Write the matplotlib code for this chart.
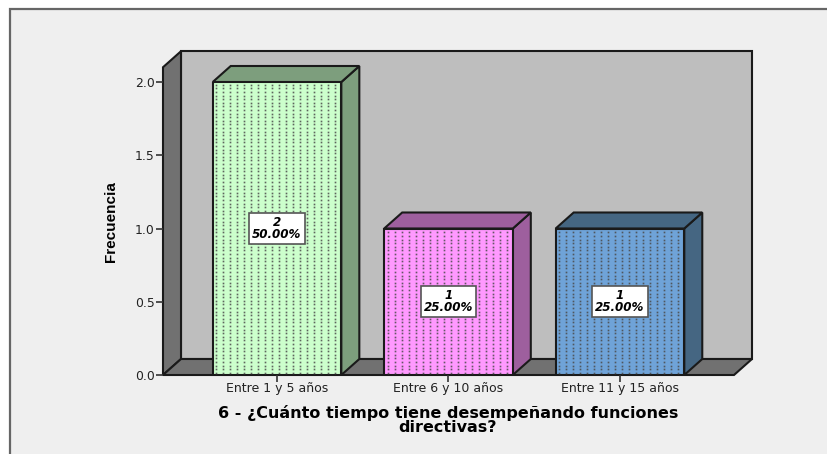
import numpy as np
import matplotlib
matplotlib.use("Agg")
import matplotlib.pyplot as plt
from matplotlib.patches import Polygon, Rectangle

categories = ["Entre 1 y 5 años", "Entre 6 y 10 años", "Entre 11 y 15 años"]
counts = [2, 1, 1]
percents = ["50.00%", "25.00%", "25.00%"]
front_colors = ["#CCFFCC", "#FF99FF", "#6FA3D8"]
side_colors = ["#7D9E7D", "#9E5F9E", "#456682"]
yticks = [0.0, 0.5, 1.0, 1.5, 2.0]
title = "6 - ¿Cuánto tiempo tiene desempeñando funciones\ndirectivas?"

W, H = 828, 454
BG = "#EFEFEF"
EDGE = "#1A1A1A"

def box(l, t, r, b):
    # pixel box (from top left) to figure fraction rect
    return [l / W, 1 - b / H, (r - l) / W, (b - t) / H]

fig = plt.figure(figsize=(W / 100, H / 100), dpi=100, facecolor="white")

# outer panel, runs off the right and bottom of the picture
bg = fig.add_axes([0, 0, 1, 1], zorder=0)
bg.set_xlim(0, W)
bg.set_ylim(H, 0)
bg.axis("off")
bg.add_patch(Rectangle((10, 9), W, H, fc=BG, ec="#666666", lw=1.6))

ax = fig.add_axes(box(163, 82, 734, 375), zorder=1)
ax.patch.set_alpha(0)
ax.set_xlim(-0.665, 2.665)
ax.set_ylim(0, 2)
for s in ax.spines.values():
    s.set_visible(False)

# depth of the 3d effect in data units
dx = 18 / 171.5
dy = 16 / 146.5
bar_w = 0.375
x0, x1 = ax.get_xlim()
top = 2 + 0.21

def poly(pts, fc, z=2, lw=1.5):
    ax.add_patch(Polygon(pts, closed=True, fc=fc, ec=EDGE, lw=lw, zorder=z,
                         clip_on=False, joinstyle="miter"))

# back wall, left wall, floor
poly([(x0 + dx, dy), (x1 + dx, dy), (x1 + dx, top), (x0 + dx, top)], "#BEBEBE", 1)
poly([(x0, 0), (x0 + dx, dy), (x0 + dx, top), (x0, top - dy)], "#717171", 1.2)
poly([(x0, 0), (x1, 0), (x1 + dx, dy), (x0 + dx, dy)], "#717171", 1.2)

for i, (v, pct) in enumerate(zip(counts, percents)):
    l, r = i - bar_w, i + bar_w
    # right side and top faces
    poly([(r, 0), (r + dx, dy), (r + dx, v + dy), (r, v)], side_colors[i], 3)
    poly([(l, v), (r, v), (r + dx, v + dy), (l + dx, v + dy)], side_colors[i], 3)
    ax.bar(i, v, width=2 * bar_w, color=front_colors[i], edgecolor=EDGE,
           linewidth=1.5, zorder=4)
    # stipple texture on the front face
    xs = np.arange(l + 0.02, r - 0.01, 7 / 171.5)
    ys = np.arange(0.015, v - 0.01, 3.6 / 146.5)
    gx, gy = np.meshgrid(xs, ys)
    ax.plot(gx.ravel(), gy.ravel(), ls="none", marker="s", ms=1.2, mew=0,
            color="#4A4A4A", alpha=0.85, zorder=5)
    ax.text(i, v / 2, f"{v}\n{pct}", ha="center", va="center", fontsize=8.6,
            fontweight="bold", style="italic", family="DejaVu Sans",
            linespacing=0.9, color="black", zorder=6,
            bbox=dict(boxstyle="square,pad=0.24", fc="white", ec="#555555", lw=1.2))

ax.set_xticks(range(len(categories)))
ax.set_xticklabels(categories, fontsize=9, family="DejaVu Sans", color="#222222")
ax.set_yticks(yticks)
ax.set_yticklabels([f"{t:.1f}" for t in yticks], fontsize=8.9,
                   family="DejaVu Sans", color="#222222")
ax.tick_params(axis="x", length=5, width=1.2, color="#333333", pad=0)
ax.tick_params(axis="y", length=5, width=1.2, color="#333333", pad=1)

fig.text(111 / W, 1 - 222 / H, "Frecuencia", rotation=90, ha="center",
         va="center", fontsize=11, fontweight="bold",
         family="Liberation Sans", color="black")
fig.text(448 / W, 1 - 420 / H, title, ha="center", va="center", fontsize=11.5,
         fontweight="bold", family="DejaVu Sans", linespacing=0.92, color="black")

fig.savefig("out.png", dpi=100, facecolor="white")
